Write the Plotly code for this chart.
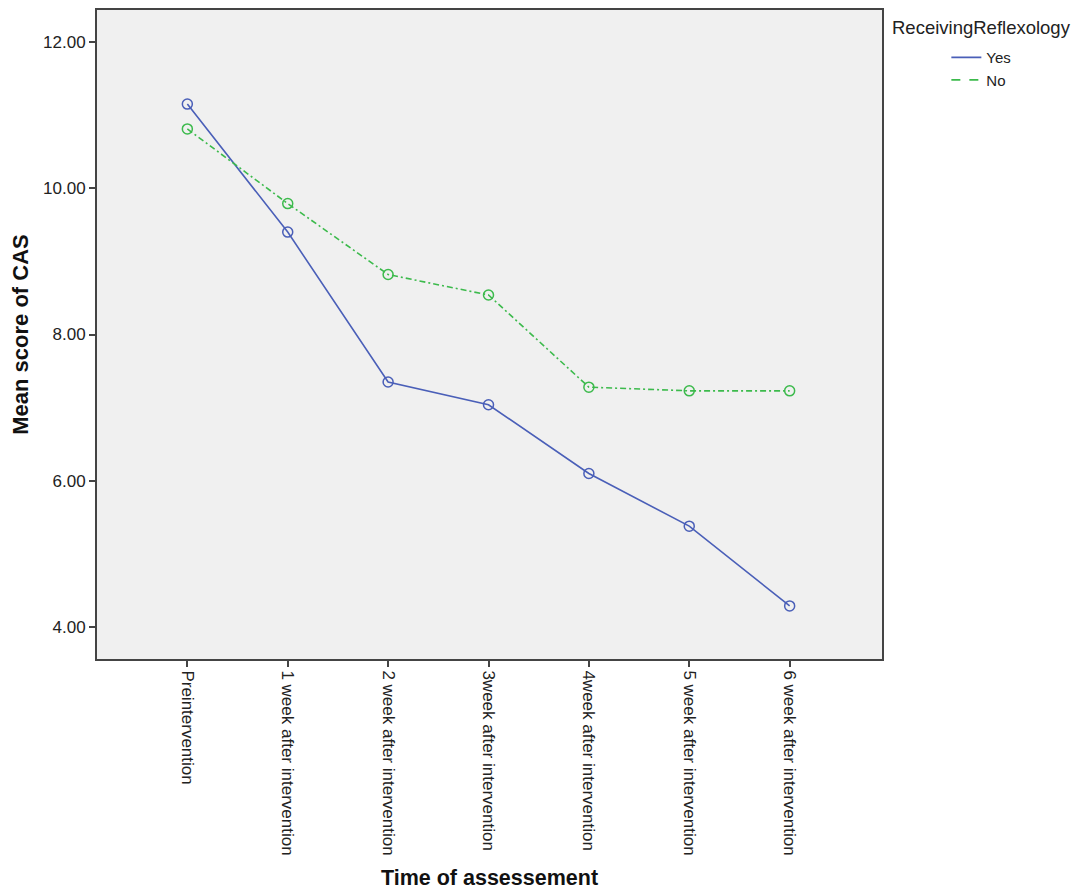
import plotly.graph_objects as go

categories = ["Preintervention", "1 week after intervention", "2 week after intervention",
              "3week after intervention", "4week after intervention", "5 week after intervention",
              "6 week after intervention"]
yes_values = [11.15, 9.40, 7.35, 7.04, 6.10, 5.38, 4.29]
no_values = [10.81, 9.79, 8.82, 8.54, 7.28, 7.23, 7.23]
y_tickvals = [4, 6, 8, 10, 12]
y_ticktext = ["4.00", "6.00", "8.00", "10.00", "12.00"]
legend_title = "ReceivingReflexology"

BLUE = "#4a5fb8"
GREEN = "#3cba4c"
FONT = "Liberation Sans, Arial, sans-serif"
DASH = "6px,3px,2px,3px"

x_idx = list(range(len(categories)))

fig = go.Figure()
fig.add_trace(go.Scatter(
    x=x_idx, y=yes_values, name="Yes", mode="lines+markers", showlegend=False,
    line=dict(color=BLUE, width=1.6),
    marker=dict(symbol="circle-open", size=10, color=BLUE, line=dict(width=1.5, color=BLUE)),
))
fig.add_trace(go.Scatter(
    x=x_idx, y=no_values, name="No", mode="lines+markers", showlegend=False,
    line=dict(color=GREEN, width=1.6, dash=DASH),
    marker=dict(symbol="circle-open", size=10, color=GREEN, line=dict(width=1.5, color=GREEN)),
))
# legend-only entries (lines without markers)
fig.add_trace(go.Scatter(x=[None], y=[None], name="Yes", mode="lines",
                         line=dict(color=BLUE, width=1.6)))
fig.add_trace(go.Scatter(x=[None], y=[None], name="No", mode="lines",
                         line=dict(color=GREEN, width=1.6, dash="dash")))

fig.add_annotation(text=legend_title, xref="paper", yref="paper", x=1.0102, y=0.9736,
                   xanchor="left", yanchor="middle", showarrow=False,
                   font=dict(size=18.5, color="#222222", family=FONT))

fig.update_layout(
    width=1081, height=892,
    margin=dict(l=89, r=207, t=0, b=241),
    paper_bgcolor="white",
    plot_bgcolor="#f0f0f0",
    font=dict(family=FONT, size=17, color="#222222"),
    showlegend=True,
    legend=dict(
        x=1.003, y=0.952, xanchor="left", yanchor="top",
        font=dict(size=15), bgcolor="rgba(0,0,0,0)",
        itemwidth=30, indentation=62, tracegroupgap=0,
    ),
    xaxis=dict(
        range=[-0.9, 6.92],
        tickvals=x_idx, ticktext=categories, tickangle=90,
        showgrid=False, zeroline=False,
        showline=True, linecolor="#444444", linewidth=2, mirror=True,
        ticks="outside", ticklen=6, tickcolor="#444444", tickwidth=1.5,
        tickfont=dict(size=17, color="#222222"),
        title=dict(text="<b>Time of assessement</b>", font=dict(size=21.5, color="#111111"), standoff=15),
    ),
    yaxis=dict(
        range=[3.564, 12.436],
        tickvals=y_tickvals, ticktext=y_ticktext,
        showgrid=False, zeroline=False,
        showline=True, linecolor="#444444", linewidth=2, mirror=True,
        ticks="outside", ticklen=6, tickcolor="#444444", tickwidth=1.5,
        tickfont=dict(size=17, color="#222222"),
        title=dict(text="<b>Mean score of CAS</b>", font=dict(size=22, color="#111111"), standoff=10),
    ),
)

fig.write_html("out.html")
